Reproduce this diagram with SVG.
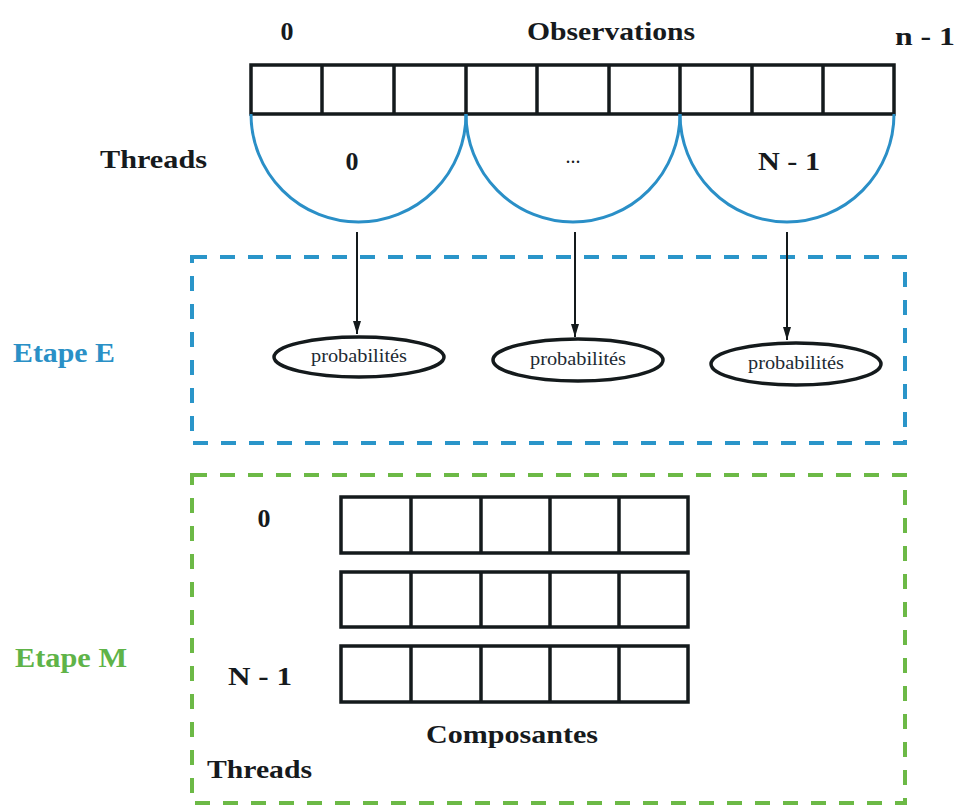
<svg xmlns="http://www.w3.org/2000/svg" width="958" height="807" viewBox="0 0 958 807" font-family="Liberation Serif, DejaVu Serif, Noto Serif, serif">
<style>
.t{font-weight:bold;fill:#161a1d}
.cell{fill:#fff;stroke:#141a1c;stroke-width:3.5}
.div{stroke:#141a1c;stroke-width:3.5}
.arc{fill:none;stroke:#2a8fc7;stroke-width:3}
.ell{fill:#fff;stroke:#141a1c;stroke-width:3.5}
.prob{font-size:18px;fill:#222a33}
.conn{stroke:#141a1c;stroke-width:2}
</style>
<defs>
<marker id="ah" markerWidth="10" markerHeight="14" refX="5" refY="13" orient="0" markerUnits="userSpaceOnUse">
<path d="M1,0 L9,0 L5,13 Z" fill="#141a1c"/>
</marker>
</defs>
<rect width="958" height="807" fill="#fff"/>

<g id="stage-e-box">
<rect x="192" y="257" width="713" height="186" fill="none" stroke="#2a95c9" stroke-width="4" stroke-dasharray="15 13"/>
<text class="t" x="13" y="362" font-size="27" style="fill:#2a90c6" textLength="102" lengthAdjust="spacingAndGlyphs">Etape E</text>
</g>
<g id="stage-m-box">
<rect x="192" y="475" width="713" height="328" fill="none" stroke="#6cb946" stroke-width="4" stroke-dasharray="15 13"/>
<text class="t" x="15" y="667" font-size="27" style="fill:#5fb348" textLength="112" lengthAdjust="spacingAndGlyphs">Etape M</text>
</g>

<g id="observations">
<rect class="cell" x="251" y="65" width="643" height="49"/>
<line class="div" x1="322" y1="65" x2="322" y2="114"/>
<line class="div" x1="394" y1="65" x2="394" y2="114"/>
<line class="div" x1="466" y1="65" x2="466" y2="114"/>
<line class="div" x1="537" y1="65" x2="537" y2="114"/>
<line class="div" x1="609" y1="65" x2="609" y2="114"/>
<line class="div" x1="680" y1="65" x2="680" y2="114"/>
<line class="div" x1="752" y1="65" x2="752" y2="114"/>
<line class="div" x1="823" y1="65" x2="823" y2="114"/>
<text class="t" x="287" y="40" font-size="26" text-anchor="middle">0</text>
<text class="t" x="527" y="40" font-size="26" textLength="168" lengthAdjust="spacingAndGlyphs">Observations</text>
<text class="t" x="895" y="45" font-size="26" textLength="60" lengthAdjust="spacingAndGlyphs">n - 1</text>
<text class="t" x="100" y="168" font-size="26" textLength="107" lengthAdjust="spacingAndGlyphs">Threads</text>
</g>

<g id="thread-0">
<path class="arc" d="M251,114 A107.5,108 0 0 0 466,114"/>
<text class="t" x="352" y="170" font-size="26" text-anchor="middle">0</text>
</g>
<g id="thread-mid">
<path class="arc" d="M466,114 A107,108 0 0 0 680,114"/>
<text class="t" x="573" y="163" font-size="20" text-anchor="middle" style="font-weight:normal">...</text>
</g>
<g id="thread-n1">
<path class="arc" d="M680,114 A107,108 0 0 0 894,114"/>
<text class="t" x="758" y="170" font-size="26" textLength="62" lengthAdjust="spacingAndGlyphs">N - 1</text>
</g>

<g id="prob-0">
<ellipse class="ell" cx="359" cy="357" rx="85" ry="20"/>
<text class="prob" x="359" y="362" text-anchor="middle" textLength="96" lengthAdjust="spacingAndGlyphs">probabilités</text>
</g>
<g id="prob-1">
<ellipse class="ell" cx="578" cy="360" rx="85" ry="21"/>
<text class="prob" x="578" y="365" text-anchor="middle" textLength="96" lengthAdjust="spacingAndGlyphs">probabilités</text>
</g>
<g id="prob-2">
<ellipse class="ell" cx="796" cy="364" rx="85" ry="21"/>
<text class="prob" x="796" y="369" text-anchor="middle" textLength="96" lengthAdjust="spacingAndGlyphs">probabilités</text>
</g>

<g id="connectors">
<line class="conn" x1="357" y1="232" x2="357" y2="334" marker-end="url(#ah)"/>
<line class="conn" x1="575" y1="232" x2="575" y2="337" marker-end="url(#ah)"/>
<line class="conn" x1="787" y1="232" x2="787" y2="340" marker-end="url(#ah)"/>
</g>

<g id="components">
<rect class="cell" x="341" y="497" width="347" height="56"/>
<rect class="cell" x="341" y="572" width="347" height="55"/>
<rect class="cell" x="341" y="646" width="347" height="56"/>
<line class="div" x1="411" y1="497" x2="411" y2="553"/>
<line class="div" x1="481" y1="497" x2="481" y2="553"/>
<line class="div" x1="550" y1="497" x2="550" y2="553"/>
<line class="div" x1="619" y1="497" x2="619" y2="553"/>
<line class="div" x1="411" y1="572" x2="411" y2="627"/>
<line class="div" x1="481" y1="572" x2="481" y2="627"/>
<line class="div" x1="550" y1="572" x2="550" y2="627"/>
<line class="div" x1="619" y1="572" x2="619" y2="627"/>
<line class="div" x1="411" y1="646" x2="411" y2="702"/>
<line class="div" x1="481" y1="646" x2="481" y2="702"/>
<line class="div" x1="550" y1="646" x2="550" y2="702"/>
<line class="div" x1="619" y1="646" x2="619" y2="702"/>
<text class="t" x="264" y="527" font-size="26" text-anchor="middle">0</text>
<text class="t" x="228" y="685" font-size="26" textLength="64" lengthAdjust="spacingAndGlyphs">N - 1</text>
<text class="t" x="426" y="743" font-size="26" textLength="172" lengthAdjust="spacingAndGlyphs">Composantes</text>
<text class="t" x="207" y="778" font-size="26" textLength="105" lengthAdjust="spacingAndGlyphs">Threads</text>
</g>
</svg>
